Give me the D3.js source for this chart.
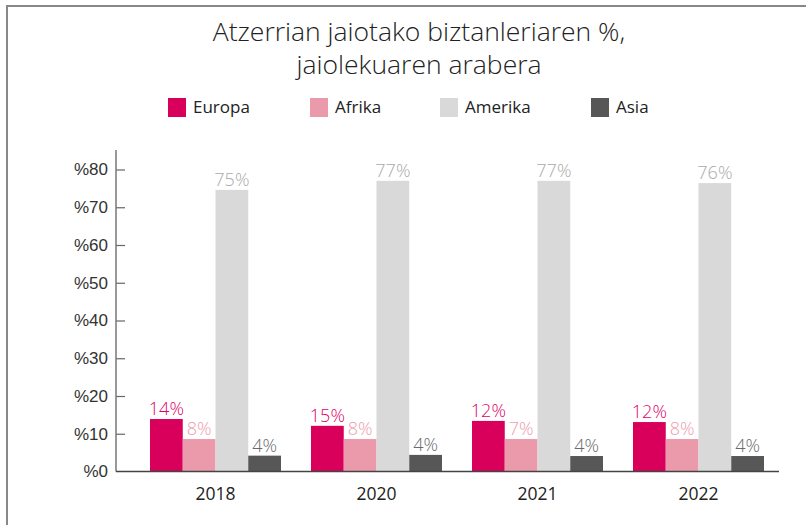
<!DOCTYPE html>
<html lang="eu">
<head>
<meta charset="utf-8">
<title>Atzerrian jaiotako biztanleria</title>
<script src="https://cdn.jsdelivr.net/npm/d3@7"></script>
<style>
  body { margin: 0; background: #fff; }
  svg { display: block; font-family: "Open Sans", sans-serif; }
  .tick text { font-size: 17px; fill: #333; }
</style>
</head>
<body>
<div id="chart"></div>
<script>
// data
var years = ["2018", "2020", "2021", "2022"];
var series = ["Europa", "Afrika", "Amerika", "Asia"];
var europa  = [13.9, 12.1, 13.4, 13.1];
var afrika  = [8.6, 8.6, 8.6, 8.6];
var amerika = [74.6, 77.0, 77.0, 76.4];
var asia    = [4.2, 4.4, 4.1, 4.1];
// printed labels above bars
var europaLbl  = ["14%", "15%", "12%", "12%"];
var afrikaLbl  = ["8%", "8%", "7%", "8%"];
var amerikaLbl = ["75%", "77%", "77%", "76%"];
var asiaLbl    = ["4%", "4%", "4%", "4%"];
var yTicks = [0, 10, 20, 30, 40, 50, 60, 70, 80];

var colors = { Europa: "#d9005b", Afrika: "#ea9aab", Amerika: "#d9d9d9", Asia: "#575757" };
var labelColors = { Europa: "#e0006a", Afrika: "#ee9cae", Amerika: "#aaaaaa", Asia: "#6a6a6a" };

var values = { Europa: europa, Afrika: afrika, Amerika: amerika, Asia: asia };
var labels = { Europa: europaLbl, Afrika: afrikaLbl, Amerika: amerikaLbl, Asia: asiaLbl };

var W = 806, H = 525;
var svg = d3.select("#chart").append("svg").attr("width", W).attr("height", H);

// frame (open at right and bottom)
svg.append("path")
   .attr("d", "M7,525 V6 H806")
   .attr("fill", "none")
   .attr("stroke", "#888")
   .attr("stroke-width", 2);

// title
var title = svg.append("text")
   .attr("text-anchor", "middle")
   .attr("font-size", 26.5)
   .attr("font-weight", 300)
   .attr("fill", "#222");
title.append("tspan").attr("x", 419).attr("y", 41).text("Atzerrian jaiotako biztanleriaren %,");
title.append("tspan").attr("x", 419).attr("y", 74).text("jaiolekuaren arabera");

// legend
var legendX = [168, 310, 440, 591];
var legend = svg.selectAll(".legend")
   .data(series)
   .enter().append("g")
   .attr("class", "legend")
   .attr("transform", function(d, i) { return "translate(" + legendX[i] + ",98)"; });
legend.append("rect")
   .attr("width", 18).attr("height", 19)
   .attr("fill", function(d) { return colors[d]; });
legend.append("text")
   .attr("x", 25).attr("y", 15)
   .attr("font-size", 17)
   .attr("fill", "#222")
   .text(function(d) { return d; });

// scales
var x0 = d3.scaleBand()
   .domain(years)
   .range([135, 779])
   .paddingInner(30 / 161)
   .paddingOuter(15 / 161);

var x1 = d3.scaleBand()
   .domain(series)
   .range([0, x0.bandwidth()]);

var y = d3.scaleLinear()
   .domain([0, 80])
   .range([471.5, 169.5]);

// y axis, ticks point inwards
var yAxis = svg.append("g")
   .attr("transform", "translate(116,0)")
   .call(d3.axisLeft(y).tickValues(yTicks).tickSize(-9).tickPadding(8)
         .tickFormat(function(d) { return "%" + d; }));
yAxis.select(".domain").remove();
yAxis.selectAll(".tick line").attr("stroke", "#666").attr("stroke-width", 1.2);
yAxis.selectAll(".tick text").attr("x", -8);
yAxis.selectAll(".tick").filter(function(d) { return d === 0; }).select("line").remove();

svg.append("line")
   .attr("x1", 116).attr("x2", 116)
   .attr("y1", 150).attr("y2", y(0))
   .attr("stroke", "#777").attr("stroke-width", 1.5);

// bars
var groups = svg.selectAll(".year")
   .data(years)
   .enter().append("g")
   .attr("class", "year")
   .attr("transform", function(d) { return "translate(" + x0(d) + ",0)"; });

groups.selectAll("rect")
   .data(function(d, i) { return series.map(function(s) { return { s: s, v: values[s][i], l: labels[s][i] }; }); })
   .enter().append("rect")
   .attr("x", function(d) { return x1(d.s); })
   .attr("width", x1.bandwidth())
   .attr("y", function(d) { return y(d.v); })
   .attr("height", function(d) { return y(0) - y(d.v); })
   .attr("fill", function(d) { return colors[d.s]; });

groups.selectAll(".val")
   .data(function(d, i) { return series.map(function(s) { return { s: s, v: values[s][i], l: labels[s][i] }; }); })
   .enter().append("text")
   .attr("class", "val")
   .attr("x", function(d) { return x1(d.s) + x1.bandwidth() / 2; })
   .attr("y", function(d) { return y(d.v) - 4; })
   .attr("text-anchor", "middle")
   .attr("font-size", 18)
   .attr("font-weight", 300)
   .attr("fill", function(d) { return labelColors[d.s]; })
   .text(function(d) { return d.l; });

// x axis baseline
svg.append("line")
   .attr("x1", 116).attr("x2", 779)
   .attr("y1", y(0)).attr("y2", y(0))
   .attr("stroke", "#444").attr("stroke-width", 1.5);

// year labels
svg.selectAll(".yr")
   .data(years)
   .enter().append("text")
   .attr("class", "yr")
   .attr("x", function(d) { return x0(d) + x0.bandwidth() / 2; })
   .attr("y", 500)
   .attr("text-anchor", "middle")
   .attr("font-size", 17.5)
   .attr("fill", "#222")
   .text(function(d) { return d; });
</script>
</body>
</html>
